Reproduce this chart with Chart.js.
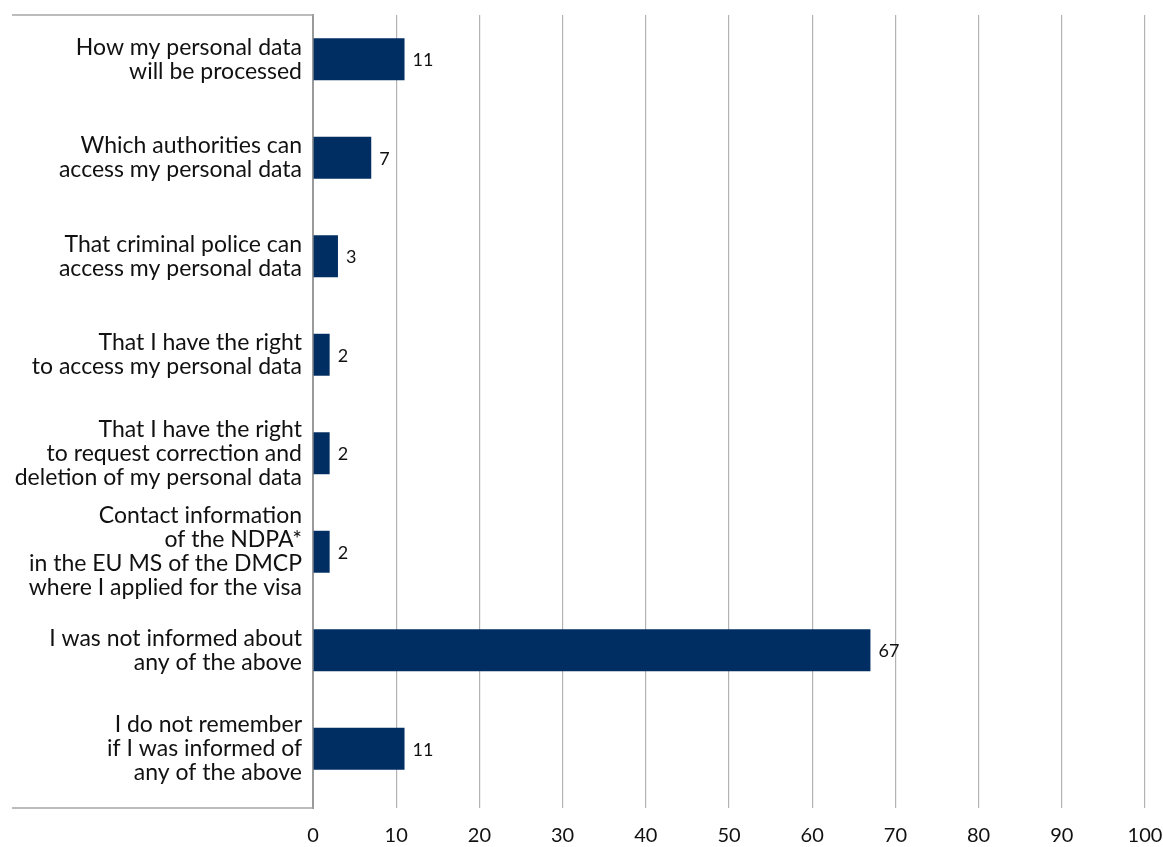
<!DOCTYPE html>
<html>
<head>
<meta charset="utf-8">
<script src="https://cdn.jsdelivr.net/npm/chart.js@4"></script>
<style>
  html, body { margin: 0; padding: 0; background: #fff; }
  #wrap { width: 1163px; height: 847px; }
</style>
</head>
<body>
<div id="wrap"><canvas id="chart"></canvas></div>
<script>
// categories (multi-line labels, as in the source)
const categories = [
  ["How my personal data", "will be processed"],
  ["Which authorities can", "access my personal data"],
  ["That criminal police can", "access my personal data"],
  ["That I have the right", "to access my personal data"],
  ["That I have the right", "to request correction and", "deletion of my personal data"],
  ["Contact information", "of the NDPA*", "in the EU MS of the DMCP", "where I applied for the visa"],
  ["I was not informed about", "any of the above"],
  ["I do not remember", "if I was informed of", "any of the above"]
];
const values = [11, 7, 3, 2, 2, 2, 67, 11];
const xTicks = [0, 10, 20, 30, 40, 50, 60, 70, 80, 90, 100];

const FONT = "Lato, 'Open Sans', sans-serif";
const barColor = "#002d62";

// the category bands in the original sit a little higher than the frame
const bandShift = {
  id: "bandShift",
  afterLayout(chart) {
    const y = chart.scales.y;
    y._startPixel = y.top - 5;
    y._endPixel = y.bottom - 10;
    y._length = y._endPixel - y._startPixel;
  }
};

// value next to the end of each bar
const valueLabels = {
  id: "valueLabels",
  afterDatasetsDraw(chart) {
    const ctx = chart.ctx;
    const meta = chart.getDatasetMeta(0);
    ctx.save();
    ctx.font = "18px " + FONT;
    ctx.fillStyle = "#111";
    ctx.textAlign = "left";
    ctx.textBaseline = "middle";
    meta.data.forEach((bar, i) => {
      ctx.fillText(String(values[i]), bar.x + 8, bar.y + 1);
    });
    ctx.restore();
  }
};

// top and bottom rules across the label column
const labelBox = {
  id: "labelBox",
  beforeDatasetsDraw(chart) {
    const { ctx, chartArea } = chart;
    ctx.save();
    ctx.strokeStyle = "#a6a6a6";
    ctx.lineWidth = 1.5;
    ctx.beginPath();
    ctx.moveTo(12, chartArea.top);
    ctx.lineTo(chartArea.left, chartArea.top);
    ctx.moveTo(12, chartArea.bottom);
    ctx.lineTo(chartArea.left, chartArea.bottom);
    ctx.stroke();
    ctx.restore();
  }
};

new Chart(document.getElementById("chart"), {
  type: "bar",
  data: {
    labels: categories,
    datasets: [{
      data: values,
      backgroundColor: barColor,
      barPercentage: 0.852,
      categoryPercentage: 0.5
    }]
  },
  options: {
    indexAxis: "y",
    responsive: true,
    maintainAspectRatio: false,
    animation: false,
    layout: { padding: { top: 15, right: 18, bottom: 0, left: 0 } },
    plugins: {
      legend: { display: false },
      tooltip: { enabled: false }
    },
    scales: {
      x: {
        min: 0,
        max: 100,
        afterBuildTicks(scale) {
          scale.ticks = xTicks.map(v => ({ value: v }));
        },
        afterFit(scale) {
          scale.height = 39;
          scale.paddingLeft = 0;
          scale.paddingRight = 0;
        },
        grid: { color: "#b3b3b3", lineWidth: 1.2, drawTicks: false },
        border: { display: false },
        ticks: {
          padding: 16,
          color: "#111",
          font: { family: FONT, size: 20 },
          maxRotation: 0
        }
      },
      y: {
        afterFit(scale) {
          scale.width = 313;
          scale.paddingTop = 0;
          scale.paddingBottom = 0;
        },
        grid: { display: false, drawTicks: false },
        border: { display: true, color: "#9a9a9a", width: 2 },
        ticks: {
          padding: 11,
          color: "#111",
          font: { family: FONT, size: 23, lineHeight: 1.05 },
          autoSkip: false
        }
      }
    }
  },
  plugins: [bandShift, labelBox, valueLabels]
});
</script>
</body>
</html>
